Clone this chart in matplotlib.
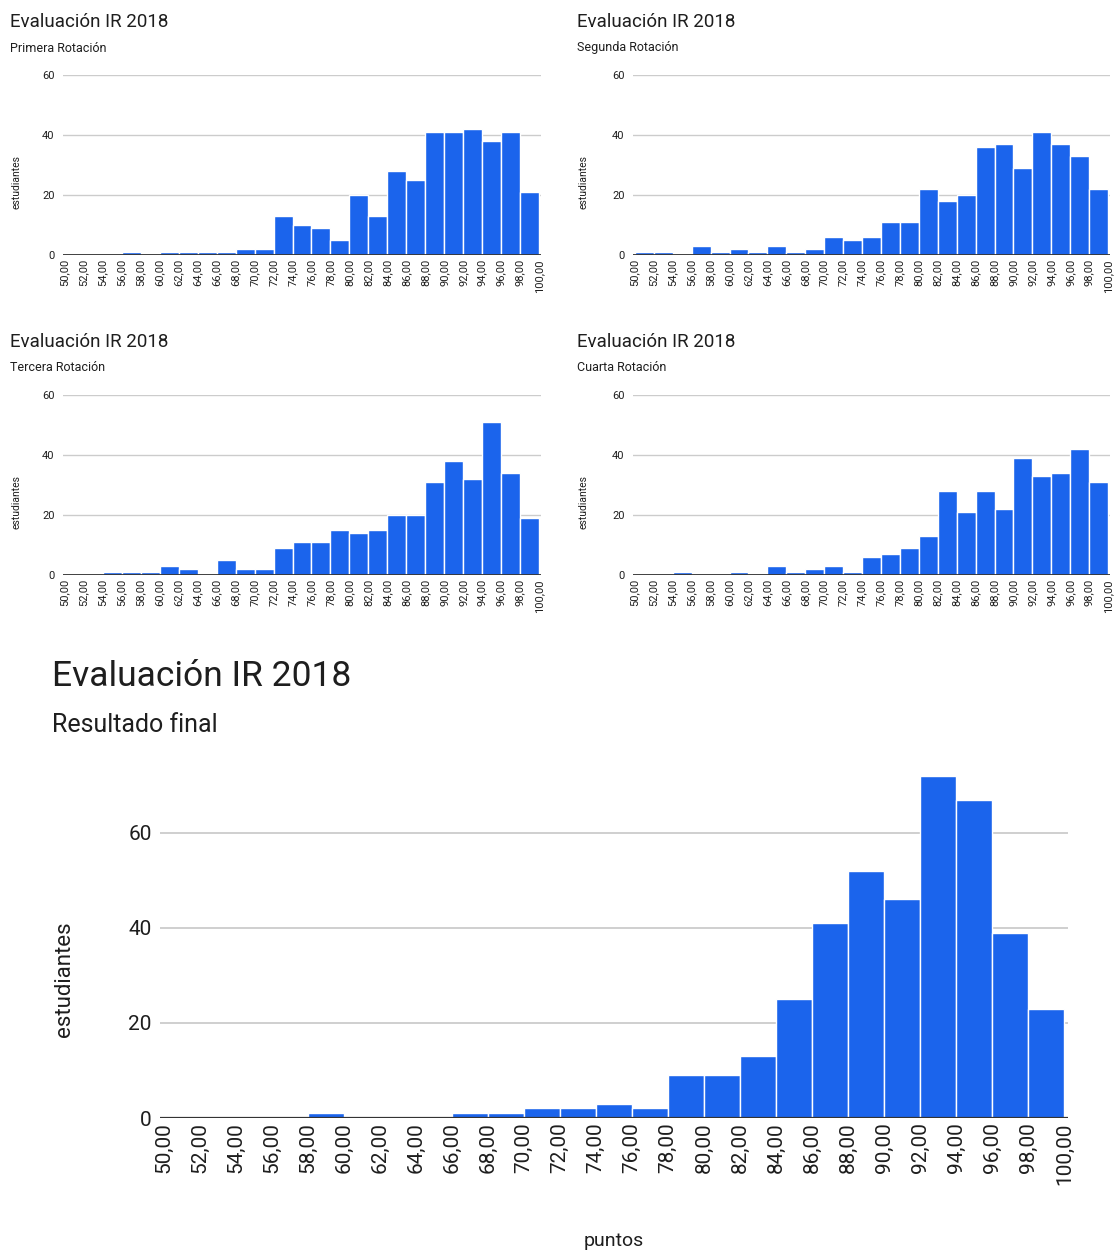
import matplotlib
matplotlib.use('Agg')
import matplotlib.pyplot as plt
import numpy as np

plt.rcParams['font.family'] = ['Roboto', 'DejaVu Sans']

# bin edges 50..100 step 2
edges = list(range(50, 101, 2))
tick_labels = ['%d,00' % e for e in edges]

primera = [0, 0, 0, 1, 0, 1, 1, 1, 1, 2, 2, 13, 10, 9, 5, 20, 13, 28, 25, 41, 41, 42, 38, 41, 21]
segunda = [1, 1, 0, 3, 1, 2, 1, 3, 1, 2, 6, 5, 6, 11, 11, 22, 18, 20, 36, 37, 29, 41, 37, 33, 22]
tercera = [0, 0, 1, 1, 1, 3, 2, 0, 5, 2, 2, 9, 11, 11, 15, 14, 15, 20, 20, 31, 38, 32, 51, 34, 19]
cuarta = [0, 0, 1, 0, 0, 1, 0, 3, 1, 2, 3, 1, 6, 7, 9, 13, 28, 21, 28, 22, 39, 33, 34, 42, 31]
final = [0, 0, 0, 0, 1, 0, 0, 0, 1, 1, 2, 2, 3, 2, 9, 9, 13, 25, 41, 52, 46, 72, 67, 39, 23]

titulo = 'Evaluación IR 2018'
subtitulos = ['Primera Rotación', 'Segunda Rotación', 'Tercera Rotación', 'Cuarta Rotación']

BLUE = '#1b64ec'
TXT = '#1e1e1e'
W, H = 1116, 1255
fig = plt.figure(figsize=(W / 100, H / 100), dpi=100)


def px_axes(x0, x1, ytop, ybot):
    return fig.add_axes([x0 / W, 1 - ybot / H, (x1 - x0) / W, (ybot - ytop) / H])


def draw(ax, vals, ymax, fs_tick, fs_xtick, lw_grid):
    ax.bar(edges[:-1], vals, width=2, align='edge', color=BLUE,
           edgecolor='white', linewidth=1.0, zorder=3)
    ax.set_xlim(49.8, 100.2)
    ax.set_ylim(0, ymax)
    ax.set_yticks([0, 20, 40, 60])
    ax.set_xticks(edges)
    ax.set_xticklabels(tick_labels, rotation=90, fontsize=fs_xtick, color=TXT)
    ax.tick_params(axis='y', length=0, labelsize=fs_tick, labelcolor=TXT, pad=6)
    ax.tick_params(axis='x', length=0, pad=3)
    ax.grid(axis='y', color='#cccccc', linewidth=lw_grid, zorder=0)
    for s in ax.spines.values():
        s.set_visible(False)
    ax.axhline(0, color='#333333', linewidth=lw_grid + 0.3, zorder=4)


# four small panels: data, axes left/right/top/bottom px, title x/y, subtitle y, ylabel x
small = [
    (primera, 63, 541, 75, 255, 10, 22, 48, 21),
    (segunda, 633, 1110, 75, 255, 577, 22, 48, 588),
    (tercera, 63, 541, 395, 575, 10, 342, 368, 21),
    (cuarta, 633, 1110, 395, 575, 577, 342, 368, 588),
]
for (vals, x0, x1, yt, yb, tx, ty, sy, lx), sub in zip(small, subtitulos):
    ax = px_axes(x0, x1, yt, yb)
    draw(ax, vals, 60, 8, 8, 1.0)
    ax.set_ylabel('estudiantes', fontsize=7.5, color=TXT)
    ax.yaxis.set_label_coords((lx - x0) / (x1 - x0), 0.405)
    fig.text(tx / W, 1 - ty / H, titulo, fontsize=13.5, va='center', ha='left', color=TXT)
    fig.text(tx / W, 1 - sy / H, sub, fontsize=9, va='center', ha='left', color=TXT)

# final result
ax = px_axes(160, 1068, 771, 1118)
draw(ax, final, 73, 15, 15, 1.3)
ax.set_ylabel('estudiantes', fontsize=16, color=TXT)
ax.yaxis.set_label_coords(-0.094, 0.40)
ax.set_xlabel('puntos', fontsize=14, color=TXT, labelpad=34)
fig.text(52 / W, 1 - 677 / H, titulo, fontsize=25.5, va='center', ha='left', color=TXT)
fig.text(52 / W, 1 - 725 / H, 'Resultado final', fontsize=18, va='center', ha='left', color=TXT)

fig.savefig('out.png', dpi=100)
